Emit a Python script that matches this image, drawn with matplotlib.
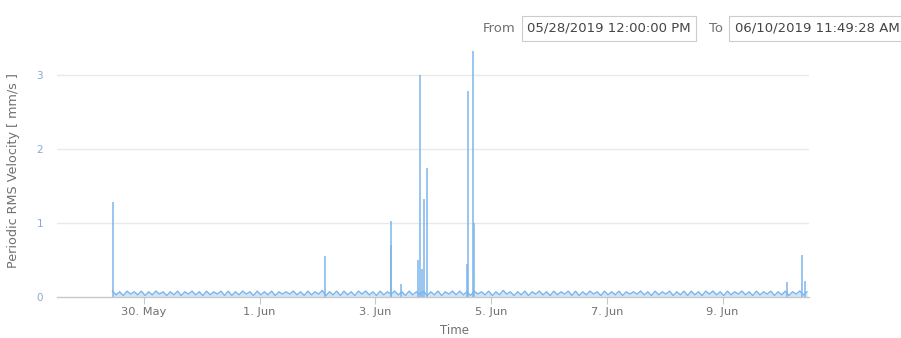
import matplotlib
matplotlib.use("Agg")
import matplotlib.pyplot as plt
import numpy as np
import pandas as pd
from matplotlib.patches import Rectangle

# ---- data -------------------------------------------------------------
range_start = "2019-05-28 12:00:00"
range_end = "2019-06-10 11:49:28"

# regular readings, one every 90 minutes, starting 29 May 11:00
baseline_start = "2019-05-29 11:00:00"
baseline_step_minutes = 90
baseline_values = [
    0.08, 0.03, 0.07, 0.02, 0.08, 0.04, 0.07, 0.03, 0.08, 0.02, 0.07, 0.03, 0.08, 0.04, 0.07, 0.02,
    0.07, 0.03, 0.08, 0.02, 0.07, 0.04, 0.08, 0.03, 0.07, 0.02, 0.08, 0.03, 0.07, 0.04, 0.08, 0.02,
    0.08, 0.02, 0.07, 0.03, 0.08, 0.04, 0.07, 0.02, 0.08, 0.03, 0.07, 0.03, 0.08, 0.02, 0.07, 0.04,
    0.07, 0.04, 0.08, 0.03, 0.07, 0.02, 0.08, 0.03, 0.07, 0.04, 0.09, 0.02, 0.07, 0.03, 0.08, 0.02,
    0.08, 0.03, 0.07, 0.02, 0.08, 0.04, 0.08, 0.03, 0.07, 0.02, 0.08, 0.03, 0.07, 0.04, 0.08, 0.03,
    0.07, 0.02, 0.08, 0.03, 0.07, 0.04, 0.08, 0.02, 0.07, 0.03, 0.08, 0.02, 0.07, 0.04, 0.08, 0.03,
    0.08, 0.03, 0.07, 0.02, 0.08, 0.04, 0.07, 0.03, 0.08, 0.02, 0.07, 0.03, 0.09, 0.04, 0.07, 0.02,
    0.07, 0.03, 0.08, 0.02, 0.07, 0.04, 0.08, 0.03, 0.07, 0.02, 0.08, 0.03, 0.07, 0.04, 0.08, 0.02,
    0.08, 0.02, 0.07, 0.03, 0.08, 0.04, 0.07, 0.02, 0.08, 0.03, 0.07, 0.03, 0.08, 0.02, 0.07, 0.04,
    0.07, 0.04, 0.08, 0.03, 0.07, 0.02, 0.08, 0.03, 0.07, 0.04, 0.08, 0.02, 0.07, 0.03, 0.08, 0.02,
    0.08, 0.03, 0.07, 0.02, 0.08, 0.04, 0.08, 0.03, 0.07, 0.02, 0.08, 0.03, 0.07, 0.04, 0.08, 0.03,
    0.07, 0.02, 0.08, 0.03, 0.07, 0.04, 0.08, 0.02, 0.07, 0.03, 0.08, 0.02, 0.07, 0.04, 0.08, 0.03,
    0.07,
]

# isolated high readings
spike_times = [
    "2019-05-29 11:10", "2019-06-02 03:00", "2019-06-03 06:20", "2019-06-03 06:40",
    "2019-06-03 10:30", "2019-06-03 17:50", "2019-06-03 18:25", "2019-06-03 19:10",
    "2019-06-03 20:05", "2019-06-03 21:20", "2019-06-04 14:10", "2019-06-04 14:35",
    "2019-06-04 16:20", "2019-06-04 16:45", "2019-06-10 02:30", "2019-06-10 08:45",
    "2019-06-10 10:20",
]
spike_values = [
    1.28, 0.55, 1.03, 0.70,
    0.18, 0.50, 3.00, 0.38,
    1.32, 1.75, 0.45, 2.78,
    3.32, 1.00, 0.20, 0.57,
    0.22,
]

y_ticks = [0, 1, 2, 3]
x_tick_dates = ["2019-05-30", "2019-06-01", "2019-06-03", "2019-06-05", "2019-06-07", "2019-06-09"]
x_tick_labels = ["30. May", "1. Jun", "3. Jun", "5. Jun", "7. Jun", "9. Jun"]

# ---- figure -----------------------------------------------------------
W, H = 901, 338
fig = plt.figure(figsize=(W / 100, H / 100), dpi=100)
plt.rcParams["font.family"] = ["DejaVu Sans"]

line_color = "#7cb5ec"
grid_color = "#e9e9e9"
label_color = "#707070"

ax = fig.add_axes([57 / W, (H - 297) / H, (809 - 57) / W, (297 - 38) / H])

base_t = pd.date_range(baseline_start, periods=len(baseline_values),
                       freq=f"{baseline_step_minutes}min")
ax.fill_between(base_t, 0, baseline_values, color=line_color, alpha=0.35, lw=0)
ax.plot(base_t, baseline_values, color=line_color, lw=1.0, solid_joinstyle="miter")
ax.vlines(pd.to_datetime(spike_times), 0, spike_values, color=line_color, lw=1.1)

ax.set_xlim(pd.Timestamp(range_start), pd.Timestamp(range_end))
ax.set_ylim(0, 3.5)

ax.set_yticks(y_ticks)
ax.set_yticklabels([str(v) for v in y_ticks], color="#8aa8cf", fontsize=7.5)
ax.tick_params(axis="y", length=0, pad=10)
for v in y_ticks[1:]:
    ax.axhline(v, color=grid_color, lw=1.0, zorder=0)

ax.set_xticks(pd.to_datetime(x_tick_dates))
ax.set_xticklabels(x_tick_labels, fontsize=8.2, color=label_color)
ax.tick_params(axis="x", length=5, width=0.8, color="#c8c8c8", pad=2)

for side in ("top", "right", "left"):
    ax.spines[side].set_visible(False)
ax.spines["bottom"].set_color("#c8c8c8")
ax.spines["bottom"].set_linewidth(1.0)

fig.text(14 / W, 1 - 171 / H, "Periodic RMS Velocity [ mm/s ]", rotation=90,
         ha="center", va="center", fontsize=9.2, color=label_color)
fig.text(455 / W, 1 - 331 / H, "Time", ha="center", va="center",
         fontsize=8.5, color=label_color)

# date range selector boxes
fig.text(499 / W, 1 - 28 / H, "From", ha="center", va="center", fontsize=9.5, color=label_color)
fig.text(716 / W, 1 - 28 / H, "To", ha="center", va="center", fontsize=9.5, color=label_color)
for x0, x1, txt in [(522, 696, "05/28/2019 12:00:00 PM"), (729, 905, "06/10/2019 11:49:28 AM")]:
    fig.patches.append(Rectangle((x0 / W, 1 - 41 / H), (x1 - x0) / W, 25 / H,
                                 transform=fig.transFigure, facecolor="white",
                                 edgecolor="#cccccc", lw=0.8))
    fig.text((x0 + x1) / 2 / W, 1 - 28 / H, txt, ha="center", va="center",
             fontsize=9.5, color="#444444")

fig.savefig("out.png", dpi=100)
